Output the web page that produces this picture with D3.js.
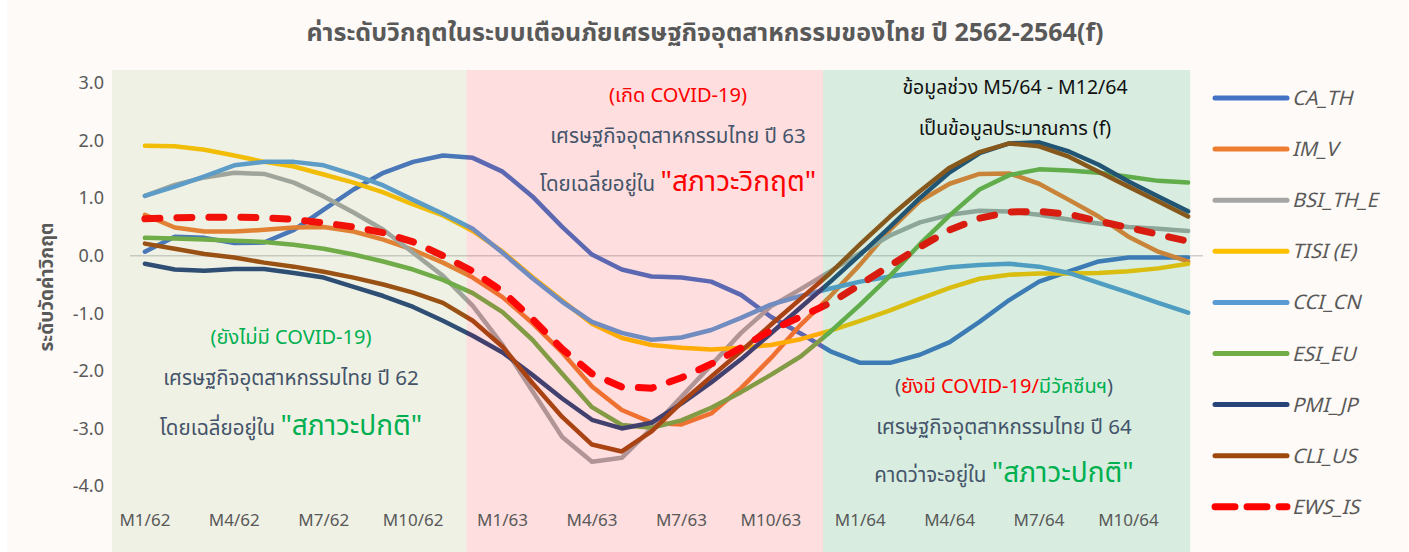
<!DOCTYPE html>
<html>
<head>
<meta charset="utf-8">
<script src="https://cdn.jsdelivr.net/npm/d3@7"></script>
<style>
    body { margin: 0; background: #ffffff; }
    svg text { font-family: "Noto Sans Thai", "Leelawadee UI", Tahoma, "Noto Sans", sans-serif; }
</style>
</head>
<body>
<div id="chart"></div>
<script>
//Define the months (M1/62 ... M12/64)
var years = ["62", "63", "64"];
var months = [];
years.forEach(function (y) {
    for (var m = 1; m <= 12; m++) {
        months.push("M" + m + "/" + y);
    }
});

//Tick labels shown on the x axe
var xTicks = ["M1/62", "M4/62", "M7/62", "M10/62", "M1/63", "M4/63", "M7/63", "M10/63", "M1/64", "M4/64", "M7/64", "M10/64"];
var yTicks = [3, 2, 1, 0, -1, -2, -3, -4];

//Series values
var CA_TH = [0.07, 0.33, 0.31, 0.22, 0.23, 0.45, 0.8, 1.15, 1.44, 1.63, 1.74, 1.70, 1.46, 1.03, 0.5, 0.02, -0.24, -0.36, -0.38, -0.45, -0.68, -1.06, -1.35, -1.66, -1.86, -1.86, -1.72, -1.5, -1.15, -0.77, -0.45, -0.27, -0.1, -0.03, -0.03, -0.03];
var IM_V = [0.71, 0.49, 0.42, 0.42, 0.45, 0.49, 0.5, 0.42, 0.28, 0.1, -0.12, -0.38, -0.72, -1.17, -1.68, -2.27, -2.68, -2.9, -2.93, -2.74, -2.3, -1.78, -1.2, -0.7, -0.15, 0.45, 0.95, 1.25, 1.42, 1.43, 1.25, 0.97, 0.68, 0.33, 0.07, -0.1];
var BSI_TH_E = [1.04, 1.23, 1.36, 1.44, 1.42, 1.27, 1.03, 0.75, 0.45, 0.05, -0.35, -0.87, -1.55, -2.35, -3.15, -3.58, -3.51, -3.0, -2.45, -1.9, -1.34, -0.88, -0.58, -0.27, 0.05, 0.35, 0.58, 0.71, 0.78, 0.77, 0.71, 0.63, 0.56, 0.5, 0.47, 0.43];
var TISI_E = [1.91, 1.9, 1.84, 1.74, 1.63, 1.55, 1.41, 1.27, 1.1, 0.89, 0.7, 0.43, 0.07, -0.37, -0.78, -1.18, -1.43, -1.55, -1.6, -1.63, -1.6, -1.55, -1.45, -1.3, -1.13, -0.95, -0.75, -0.56, -0.4, -0.33, -0.31, -0.31, -0.3, -0.27, -0.22, -0.14];
var CCI_CN = [1.04, 1.2, 1.38, 1.57, 1.63, 1.63, 1.57, 1.41, 1.22, 0.97, 0.73, 0.47, 0.05, -0.39, -0.8, -1.15, -1.34, -1.46, -1.42, -1.29, -1.08, -0.85, -0.7, -0.57, -0.45, -0.36, -0.28, -0.2, -0.16, -0.14, -0.19, -0.3, -0.47, -0.64, -0.82, -0.99];
var ESI_EU = [0.31, 0.3, 0.28, 0.26, 0.24, 0.19, 0.12, 0.02, -0.1, -0.24, -0.42, -0.65, -0.98, -1.46, -2.05, -2.63, -2.94, -2.99, -2.86, -2.64, -2.37, -2.07, -1.75, -1.32, -0.85, -0.35, 0.2, 0.7, 1.15, 1.4, 1.5, 1.48, 1.44, 1.37, 1.3, 1.27];
var PMI_JP = [-0.14, -0.24, -0.26, -0.23, -0.23, -0.3, -0.38, -0.54, -0.7, -0.89, -1.13, -1.39, -1.68, -2.07, -2.48, -2.85, -3.0, -2.9, -2.57, -2.2, -1.8, -1.35, -0.9, -0.45, 0.02, 0.5, 1.0, 1.45, 1.78, 1.95, 1.97, 1.81, 1.58, 1.29, 1.03, 0.77];
var CLI_US = [0.21, 0.12, 0.03, -0.03, -0.12, -0.19, -0.28, -0.38, -0.5, -0.64, -0.82, -1.13, -1.58, -2.21, -2.8, -3.28, -3.4, -3.05, -2.55, -2.1, -1.66, -1.2, -0.75, -0.3, 0.2, 0.68, 1.12, 1.53, 1.8, 1.95, 1.9, 1.72, 1.46, 1.2, 0.94, 0.68];
var EWS_IS = [0.64, 0.66, 0.67, 0.67, 0.66, 0.63, 0.57, 0.5, 0.4, 0.24, 0.0, -0.27, -0.62, -1.1, -1.62, -2.05, -2.28, -2.3, -2.12, -1.88, -1.6, -1.3, -1.06, -0.82, -0.5, -0.17, 0.15, 0.45, 0.65, 0.76, 0.77, 0.72, 0.6, 0.49, 0.37, 0.25];

var seriesNames = ["CA_TH", "IM_V", "BSI_TH_E", "TISI (E)", "CCI_CN", "ESI_EU", "PMI_JP", "CLI_US", "EWS_IS"];
var seriesValues = [CA_TH, IM_V, BSI_TH_E, TISI_E, CCI_CN, ESI_EU, PMI_JP, CLI_US, EWS_IS];

//Define colors
var colors = ["#4472C4", "#ED7D31", "#A5A5A5", "#FFC000", "#5B9BD5", "#70AD47", "#264478", "#9E480E", "#FF0000"];

//Period blocks (in months from M1/62)
var periods = [
    {from: -1.1, to: 10.8, fill: "rgba(114,170,77,0.10)"},
    {from: 10.8, to: 22.75, fill: "rgba(255,42,55,0.13)"},
    {from: 22.75, to: 35.07, fill: "rgba(16,175,97,0.16)"}
];

var w = 1409;
var h = 552;
var margin = {top: 70, right: 206, bottom: 66, left: 130};

var svg = d3.select("#chart").append("svg").attr("width", w).attr("height", h);

//background
svg.append("rect").attr("x", 7).attr("y", 0).attr("width", w - 7).attr("height", h).attr("fill", "#FEFAF7");

//Create var x (categories) and var y
var x = d3.scaleBand()
    .domain(months)
    .range([margin.left, w - margin.right]);
var step = x.bandwidth();
function xc(i) {
    return x(months[0]) + step / 2 + i * step;
}

var y = d3.scaleLinear()
    .domain([-4, 3])
    .range([486, 83]);

//zero line
svg.append("line")
    .attr("x1", x.range()[0]).attr("x2", x.range()[1])
    .attr("y1", y(0)).attr("y2", y(0))
    .attr("stroke", "#D0CECE").attr("stroke-width", 1.5);

//draw the lines
var line = d3.line()
    .x(function (d, i) { return x(months[i]) + step / 2; })
    .y(function (d) { return y(d); });

seriesValues.forEach(function (vals, k) {
    var p = svg.append("path")
        .datum(vals)
        .attr("d", line)
        .attr("fill", "none")
        .attr("stroke", colors[k])
        .attr("stroke-linejoin", "round")
        .attr("stroke-linecap", "round");
    if (seriesNames[k] === "EWS_IS") {
        p.attr("stroke-width", 7).attr("stroke-dasharray", "15,17");
    } else {
        p.attr("stroke-width", 4.5);
    }
});

//period blocks, drawn above the lines
svg.selectAll(".period")
    .data(periods)
    .enter()
    .append("rect")
    .attr("class", "period")
    .attr("x", function (d) { return xc(d.from); })
    .attr("y", margin.top)
    .attr("width", function (d) { return xc(d.to) - xc(d.from); })
    .attr("height", h - margin.top)
    .attr("fill", function (d) { return d.fill; });

//y axe
var yAxis = svg.append("g")
    .attr("transform", "translate(" + 104 + ",0)")
    .call(d3.axisLeft(y).tickValues(yTicks).tickSize(0).tickFormat(d3.format(".1f")));
yAxis.select(".domain").remove();
yAxis.selectAll("text")
    .attr("fill", "#595959")
    .style("font-size", "18px")
    .attr("x", 0);

//x axe
var xAxis = svg.append("g")
    .attr("transform", "translate(0," + 512 + ")")
    .call(d3.axisBottom(x).tickValues(xTicks).tickSize(0));
xAxis.select(".domain").remove();
xAxis.selectAll("text")
    .attr("fill", "#595959")
    .style("font-size", "17px")
    .attr("dy", "0.32em")
    .attr("y", 9);

//title
svg.append("text")
    .attr("x", 705).attr("y", 41)
    .attr("text-anchor", "middle")
    .attr("fill", "#595959")
    .style("font-size", "25px")
    .style("font-weight", "bold")
    .text("ค่าระดับวิกฤตในระบบเตือนภัยเศรษฐกิจอุตสาหกรรมของไทย ปี 2562-2564(f)");

//y title
svg.append("text")
    .attr("transform", "translate(53,287) rotate(-90)")
    .attr("text-anchor", "middle")
    .attr("fill", "#595959")
    .style("font-size", "19px")
    .style("font-weight", "bold")
    .text("ระดับวัดค่าวิกฤต");

//annotations: each row is a list of [text, color, size]
var slate = "#44546A", green = "#00B050", red = "#FF0000";
var notes = [
    {x: 291, y: 344, parts: [["(ยังไม่มี COVID-19)", green, 20]]},
    {x: 291, y: 385, parts: [["เศรษฐกิจอุตสาหกรรมไทย ปี 62", slate, 20.5]]},
    {x: 291, y: 435, parts: [["โดยเฉลี่ยอยู่ใน ", slate, 20.5], ["\"สภาวะปกติ\"", green, 28]]},
    {x: 678, y: 102, parts: [["(เกิด COVID-19)", red, 20]]},
    {x: 678, y: 143, parts: [["เศรษฐกิจอุตสาหกรรมไทย ปี 63", slate, 20.5]]},
    {x: 678, y: 191, parts: [["โดยเฉลี่ยอยู่ใน ", slate, 20.5], ["\"สภาวะวิกฤต\"", red, 28]]},
    {x: 1015, y: 94, parts: [["ข้อมูลช่วง M5/64 - M12/64", "#111111", 19.5]]},
    {x: 1015, y: 135, parts: [["เป็นข้อมูลประมาณการ (f)", "#111111", 19.5]]},
    {x: 1004, y: 393, parts: [["(", slate, 20], ["ยังมี COVID-19/", red, 20], ["มีวัคซีนฯ", green, 20], [")", slate, 20]]},
    {x: 1004, y: 434, parts: [["เศรษฐกิจอุตสาหกรรมไทย ปี 64", slate, 20.5]]},
    {x: 1004, y: 482, parts: [["คาดว่าจะอยู่ใน ", slate, 20.5], ["\"สภาวะปกติ\"", green, 28]]}
];

notes.forEach(function (n) {
    var t = svg.append("text")
        .attr("x", n.x).attr("y", n.y)
        .attr("text-anchor", "middle");
    n.parts.forEach(function (p) {
        t.append("tspan")
            .attr("fill", p[1])
            .style("font-size", p[2] + "px")
            .text(p[0]);
    });
});

//legend
var legend = svg.selectAll(".legend")
    .data(seriesNames)
    .enter()
    .append("g")
    .attr("class", "legend")
    .attr("transform", function (d, i) { return "translate(1215," + (98 + i * 51.1) + ")"; });

legend.append("line")
    .attr("x1", 0).attr("x2", 72)
    .attr("stroke", function (d, i) { return colors[i]; })
    .attr("stroke-width", function (d) { return d === "EWS_IS" ? 7 : 5; })
    .attr("stroke-dasharray", function (d) { return d === "EWS_IS" ? "20,12" : null; })
    .attr("stroke-linecap", "round");

legend.append("text")
    .attr("x", 77)
    .attr("dy", "0.35em")
    .attr("fill", "#595959")
    .style("font-size", "20px")
    .style("font-style", "italic")
    .text(function (d) { return d; });
</script>
</body>
</html>
